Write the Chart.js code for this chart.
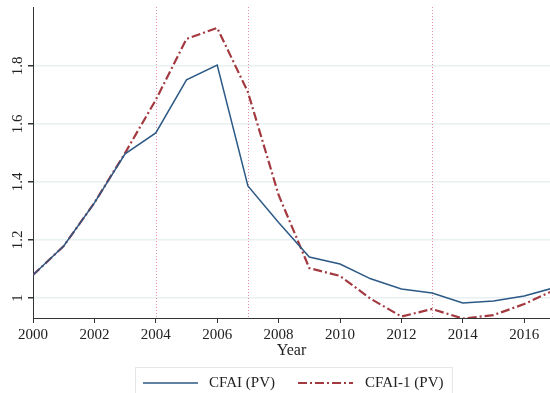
<!DOCTYPE html>
<html lang="en">
<head>
    <meta charset="UTF-8">
    <title>CFAI (PV)</title>
    <script src="https://cdn.jsdelivr.net/npm/chart.js"></script>
    <style>
        html, body { margin: 0; padding: 0; background: #fff; }
        #wrap { width: 550px; height: 393px; position: relative; }
    </style>
</head>
<body>
    <div id="wrap"><canvas id="cfaiChart"></canvas></div>

    <script>
        const years = [2000, 2001, 2002, 2003, 2004, 2005, 2006, 2007, 2008,
                       2009, 2010, 2011, 2012, 2013, 2014, 2015, 2016, 2017];
        const cfai = [1.079, 1.179, 1.328, 1.497, 1.569, 1.752, 1.803, 1.386, 1.260,
                      1.141, 1.117, 1.066, 1.031, 1.017, 0.983, 0.990, 1.007, 1.036];
        const cfai1 = [1.079, 1.179, 1.328, 1.500, 1.683, 1.893, 1.931, 1.710, 1.355,
                       1.103, 1.076, 0.997, 0.936, 0.962, 0.929, 0.941, 0.979, 1.028];
        const xTicks = [2000, 2002, 2004, 2006, 2008, 2010, 2012, 2014, 2016];
        const yTicks = [1, 1.2, 1.4, 1.6, 1.8];
        const markYears = [2004, 2007, 2013];

        const serif = '"Liberation Serif", "DejaVu Serif", serif';

        // vertical dotted lines, rotated y labels and boxed legend
        const extras = {
            id: 'extras',
            beforeDatasetsDraw(chart) {
                const { ctx, chartArea, scales } = chart;
                ctx.save();
                ctx.strokeStyle = '#e58fa6';
                ctx.lineWidth = 1;
                ctx.setLineDash([1, 2]);
                markYears.forEach(yr => {
                    const x = Math.round(scales.x.getPixelForValue(yr)) + 0.5;
                    ctx.beginPath();
                    ctx.moveTo(x, chartArea.top);
                    ctx.lineTo(x, chartArea.bottom);
                    ctx.stroke();
                });
                ctx.restore();
            },
            afterDraw(chart) {
                const { ctx, chartArea, scales } = chart;
                ctx.save();
                ctx.fillStyle = '#222';
                ctx.font = '15px ' + serif;
                ctx.textAlign = 'center';
                ctx.textBaseline = 'bottom';
                yTicks.forEach(v => {
                    const y = scales.y.getPixelForValue(v);
                    ctx.save();
                    ctx.translate(chartArea.left - 7, y);
                    ctx.rotate(-Math.PI / 2);
                    ctx.fillText(String(v), 0, 0);
                    ctx.restore();
                });

                // legend
                ctx.strokeStyle = '#e6e6e6';
                ctx.lineWidth = 1;
                ctx.setLineDash([]);
                ctx.strokeRect(135.5, 367.5, 317, 30);
                const ly = 383;
                chart.data.datasets.forEach((ds, i) => {
                    const x0 = i === 0 ? 143 : 298;
                    const tx = i === 0 ? 209 : 365;
                    ctx.strokeStyle = ds.borderColor;
                    ctx.lineWidth = ds.borderWidth;
                    ctx.setLineDash(ds.borderDash || []);
                    ctx.beginPath();
                    ctx.moveTo(x0, ly);
                    ctx.lineTo(x0 + 55, ly);
                    ctx.stroke();
                    ctx.setLineDash([]);
                    ctx.fillStyle = '#222';
                    ctx.font = '15px ' + serif;
                    ctx.textAlign = 'left';
                    ctx.textBaseline = 'middle';
                    ctx.fillText(ds.label, tx, ly);
                });
                ctx.restore();
            }
        };

        const ctx = document.getElementById('cfaiChart').getContext('2d');
        const chart = new Chart(ctx, {
            type: 'line',
            data: {
                datasets: [{
                    label: 'CFAI (PV)',
                    data: years.map((y, i) => ({ x: y, y: cfai[i] })),
                    borderColor: '#2c5985',
                    borderWidth: 1.5,
                    pointRadius: 0,
                    tension: 0
                }, {
                    label: 'CFAI-1 (PV)',
                    data: years.map((y, i) => ({ x: y, y: cfai1[i] })),
                    borderColor: '#a23a40',
                    borderWidth: 2.2,
                    borderDash: [9, 3, 2, 3],
                    pointRadius: 0,
                    tension: 0
                }]
            },
            options: {
                responsive: true,
                maintainAspectRatio: false,
                animation: false,
                clip: { left: 0, top: 0, right: 0, bottom: 0 },
                layout: { padding: { left: 0, right: 0, top: 7, bottom: 29 } },
                plugins: {
                    legend: { display: false },
                    tooltip: { enabled: false }
                },
                scales: {
                    x: {
                        type: 'linear',
                        min: 2000,
                        max: 2016.84,
                        afterBuildTicks: s => { s.ticks = xTicks.map(v => ({ value: v })); },
                        afterFit: s => { s.height = 46; },
                        grid: {
                            display: true,
                            drawOnChartArea: false,
                            tickColor: '#333',
                            tickLength: 5
                        },
                        border: { color: '#333', width: 1 },
                        ticks: {
                            color: '#222',
                            font: { family: serif, size: 15 },
                            maxRotation: 0,
                            padding: 3,
                            callback: v => String(v)
                        },
                        title: {
                            display: true,
                            text: 'Year',
                            color: '#222',
                            font: { family: serif, size: 16 },
                            padding: { top: 0 }
                        }
                    },
                    y: {
                        min: 0.931,
                        max: 2.003,
                        afterBuildTicks: s => { s.ticks = yTicks.map(v => ({ value: v })); },
                        afterFit: s => { s.width = 33; },
                        grid: {
                            color: '#e8f0f2',
                            lineWidth: 1.5,
                            tickColor: '#333',
                            tickLength: 5
                        },
                        border: { color: '#333', width: 1 },
                        ticks: { display: false }
                    }
                }
            },
            plugins: [extras]
        });
    </script>
</body>
</html>
